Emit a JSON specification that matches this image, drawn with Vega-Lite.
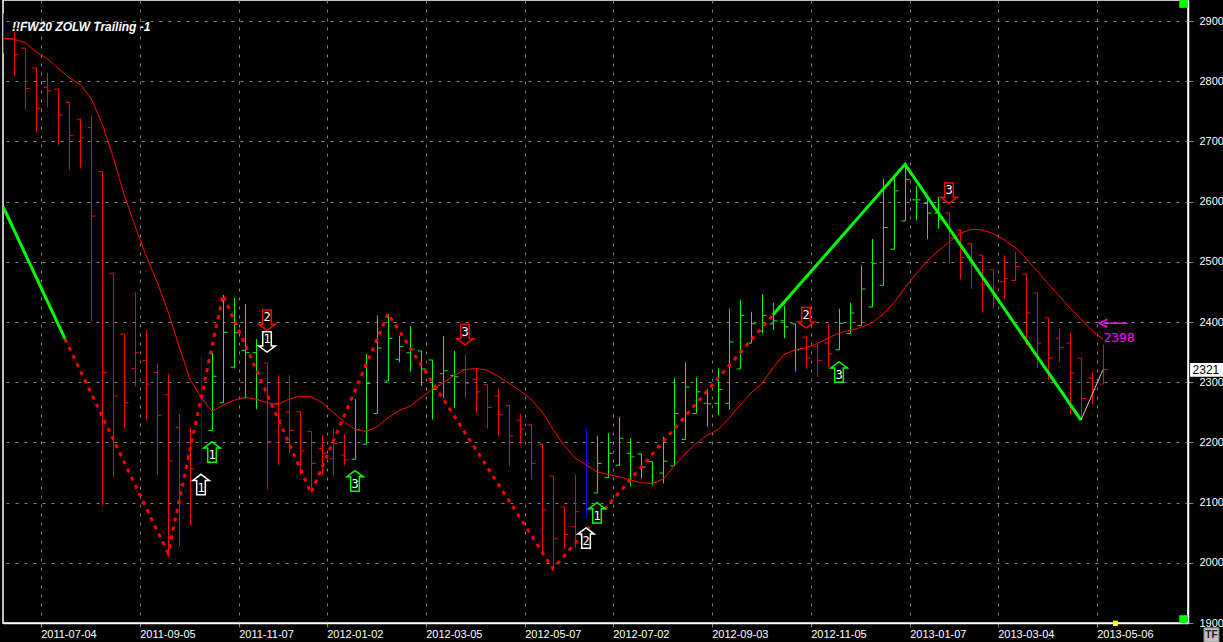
{
  "$schema": "https://vega.github.io/schema/vega-lite/v6.json",
  "width": 1185,
  "height": 623,
  "autosize": {"type": "none"},
  "padding": {"left": 3, "top": 0, "right": 35, "bottom": 19},
  "background": "#000000",
  "config": {
    "view": {"stroke": "#ffffff", "strokeWidth": 1.5}
  },
  "title": {
    "text": "!!FW20 ZOLW Trailing -1",
    "anchor": "start",
    "frame": "group",
    "offset": -43,
    "dx": 9,
    "baseline": "alphabetic",
    "font": "Liberation Sans",
    "fontSize": 12,
    "fontStyle": "italic",
    "fontWeight": "bold",
    "color": "#ffffff"
  },
  "datasets": {
    "bars": [
      {"d":"2011-06-10","o":2880,"h":2913,"l":2847,"c":2871,"t":"dn","ma":2872},
      {"d":"2011-06-17","o":2870,"h":2882,"l":2809,"c":2844,"t":"dn","ma":2870},
      {"d":"2011-06-24","o":2855,"h":2855,"l":2753,"c":2788,"t":"dn","ma":2864},
      {"d":"2011-07-01","o":2822,"h":2822,"l":2715,"c":2755,"t":"dn","ma":2849},
      {"d":"2011-07-08","o":2790,"h":2814,"l":2757,"c":2784,"t":"dn","ma":2838},
      {"d":"2011-07-15","o":2787,"h":2787,"l":2694,"c":2744,"t":"dn","ma":2822},
      {"d":"2011-07-22","o":2765,"h":2765,"l":2653,"c":2710,"t":"dn","ma":2806},
      {"d":"2011-07-29","o":2737,"h":2737,"l":2656,"c":2706,"t":"dn","ma":2795},
      {"d":"2011-08-05","o":2723,"h":2743,"l":2401,"c":2576,"t":"dn","ma":2772},
      {"d":"2011-08-12","o":2650,"h":2650,"l":2095,"c":2316,"t":"dn","ma":2730},
      {"d":"2011-08-19","o":2481,"h":2481,"l":2142,"c":2277,"t":"dn","ma":2675},
      {"d":"2011-08-26","o":2380,"h":2380,"l":2223,"c":2266,"t":"dn","ma":2612},
      {"d":"2011-09-02","o":2323,"h":2449,"l":2293,"c":2349,"t":"dn","ma":2560},
      {"d":"2011-09-09","o":2336,"h":2387,"l":2239,"c":2297,"t":"dn","ma":2510},
      {"d":"2011-09-16","o":2316,"h":2331,"l":2147,"c":2245,"t":"dn","ma":2467},
      {"d":"2011-09-23","o":2279,"h":2314,"l":2016,"c":2169,"t":"dn","ma":2418},
      {"d":"2011-09-30","o":2225,"h":2247,"l":2028,"c":2130,"t":"dn","ma":2360},
      {"d":"2011-10-07","o":2179,"h":2226,"l":2062,"c":2156,"t":"dn","ma":2305},
      {"d":"2011-10-14","o":2166,"h":2342,"l":2166,"c":2273,"t":"x","ma":2275},
      {"d":"2011-10-21","o":2220,"h":2349,"l":2220,"c":2310,"t":"up","ma":2252},
      {"d":"2011-10-28","o":2266,"h":2445,"l":2266,"c":2383,"t":"up","ma":2262},
      {"d":"2011-11-04","o":2325,"h":2440,"l":2323,"c":2382,"t":"up","ma":2270},
      {"d":"2011-11-11","o":2353,"h":2430,"l":2273,"c":2349,"t":"up","ma":2275},
      {"d":"2011-11-18","o":2349,"h":2372,"l":2255,"c":2315,"t":"up","ma":2272},
      {"d":"2011-11-25","o":2332,"h":2332,"l":2122,"c":2201,"t":"dn","ma":2266},
      {"d":"2011-12-02","o":2265,"h":2311,"l":2162,"c":2237,"t":"dn","ma":2263},
      {"d":"2011-12-09","o":2251,"h":2312,"l":2182,"c":2220,"t":"dn","ma":2272},
      {"d":"2011-12-16","o":2251,"h":2251,"l":2146,"c":2186,"t":"dn","ma":2277},
      {"d":"2011-12-23","o":2218,"h":2218,"l":2116,"c":2165,"t":"dn","ma":2276},
      {"d":"2011-12-30","o":2190,"h":2212,"l":2146,"c":2182,"t":"dn","ma":2266},
      {"d":"2012-01-06","o":2173,"h":2223,"l":2146,"c":2198,"t":"dn","ma":2250},
      {"d":"2012-01-13","o":2179,"h":2214,"l":2162,"c":2171,"t":"dn","ma":2234},
      {"d":"2012-01-20","o":2172,"h":2272,"l":2172,"c":2221,"t":"up","ma":2222},
      {"d":"2012-01-27","o":2197,"h":2347,"l":2197,"c":2298,"t":"up","ma":2218},
      {"d":"2012-02-03","o":2248,"h":2411,"l":2248,"c":2357,"t":"up","ma":2226},
      {"d":"2012-02-10","o":2302,"h":2414,"l":2302,"c":2373,"t":"up","ma":2241},
      {"d":"2012-02-17","o":2338,"h":2377,"l":2333,"c":2359,"t":"up","ma":2253},
      {"d":"2012-02-24","o":2349,"h":2393,"l":2318,"c":2355,"t":"up","ma":2260},
      {"d":"2012-03-02","o":2352,"h":2352,"l":2294,"c":2322,"t":"up","ma":2274},
      {"d":"2012-03-09","o":2337,"h":2337,"l":2238,"c":2288,"t":"up","ma":2288},
      {"d":"2012-03-16","o":2314,"h":2377,"l":2274,"c":2319,"t":"up","ma":2299},
      {"d":"2012-03-23","o":2311,"h":2352,"l":2257,"c":2309,"t":"up","ma":2311},
      {"d":"2012-03-30","o":2321,"h":2346,"l":2274,"c":2298,"t":"dn","ma":2321},
      {"d":"2012-04-06","o":2305,"h":2323,"l":2249,"c":2284,"t":"dn","ma":2323},
      {"d":"2012-04-13","o":2296,"h":2296,"l":2223,"c":2258,"t":"dn","ma":2320},
      {"d":"2012-04-20","o":2277,"h":2288,"l":2212,"c":2246,"t":"dn","ma":2310},
      {"d":"2012-04-27","o":2261,"h":2261,"l":2161,"c":2211,"t":"dn","ma":2298},
      {"d":"2012-05-04","o":2237,"h":2248,"l":2197,"c":2222,"t":"dn","ma":2286},
      {"d":"2012-05-11","o":2229,"h":2229,"l":2139,"c":2165,"t":"dn","ma":2272},
      {"d":"2012-05-18","o":2197,"h":2197,"l":2012,"c":2088,"t":"dn","ma":2251},
      {"d":"2012-05-25","o":2144,"h":2144,"l":1990,"c":2040,"t":"dn","ma":2222},
      {"d":"2012-06-01","o":2093,"h":2093,"l":2023,"c":2047,"t":"dn","ma":2195},
      {"d":"2012-06-08","o":2060,"h":2146,"l":2025,"c":2085,"t":"dn","ma":2174},
      {"d":"2012-06-15","o":2076,"h":2223,"l":2076,"c":2165,"t":"x","ma":2163},
      {"d":"2012-06-22","o":2116,"h":2211,"l":2116,"c":2165,"t":"up","ma":2151},
      {"d":"2012-06-29","o":2142,"h":2215,"l":2142,"c":2182,"t":"up","ma":2147},
      {"d":"2012-07-06","o":2162,"h":2242,"l":2162,"c":2207,"t":"up","ma":2143},
      {"d":"2012-07-13","o":2182,"h":2207,"l":2127,"c":2176,"t":"up","ma":2138},
      {"d":"2012-07-20","o":2181,"h":2181,"l":2140,"c":2159,"t":"up","ma":2133},
      {"d":"2012-07-27","o":2168,"h":2168,"l":2129,"c":2133,"t":"up","ma":2132},
      {"d":"2012-08-03","o":2149,"h":2209,"l":2132,"c":2169,"t":"up","ma":2139},
      {"d":"2012-08-10","o":2161,"h":2307,"l":2161,"c":2248,"t":"up","ma":2160},
      {"d":"2012-08-17","o":2205,"h":2333,"l":2205,"c":2292,"t":"up","ma":2181},
      {"d":"2012-08-24","o":2248,"h":2308,"l":2248,"c":2284,"t":"up","ma":2198},
      {"d":"2012-08-31","o":2265,"h":2288,"l":2226,"c":2264,"t":"up","ma":2212},
      {"d":"2012-09-07","o":2265,"h":2323,"l":2246,"c":2288,"t":"up","ma":2221},
      {"d":"2012-09-14","o":2265,"h":2422,"l":2255,"c":2367,"t":"up","ma":2240},
      {"d":"2012-09-21","o":2322,"h":2437,"l":2322,"c":2411,"t":"up","ma":2262},
      {"d":"2012-09-28","o":2365,"h":2417,"l":2365,"c":2397,"t":"up","ma":2282},
      {"d":"2012-10-05","o":2385,"h":2446,"l":2381,"c":2411,"t":"up","ma":2298},
      {"d":"2012-10-12","o":2397,"h":2432,"l":2387,"c":2402,"t":"up","ma":2324},
      {"d":"2012-10-19","o":2402,"h":2427,"l":2373,"c":2392,"t":"up","ma":2346},
      {"d":"2012-10-26","o":2397,"h":2397,"l":2318,"c":2354,"t":"up","ma":2354},
      {"d":"2012-11-02","o":2375,"h":2375,"l":2322,"c":2340,"t":"dn","ma":2357},
      {"d":"2012-11-09","o":2359,"h":2366,"l":2309,"c":2336,"t":"dn","ma":2364},
      {"d":"2012-11-16","o":2365,"h":2396,"l":2325,"c":2347,"t":"dn","ma":2373},
      {"d":"2012-11-23","o":2354,"h":2422,"l":2354,"c":2398,"t":"up","ma":2382},
      {"d":"2012-11-30","o":2381,"h":2432,"l":2381,"c":2415,"t":"up","ma":2386},
      {"d":"2012-12-07","o":2394,"h":2494,"l":2394,"c":2455,"t":"up","ma":2391},
      {"d":"2012-12-14","o":2425,"h":2538,"l":2425,"c":2497,"t":"up","ma":2399},
      {"d":"2012-12-21","o":2461,"h":2638,"l":2461,"c":2557,"t":"up","ma":2413},
      {"d":"2012-12-28","o":2521,"h":2643,"l":2521,"c":2618,"t":"up","ma":2432},
      {"d":"2013-01-04","o":2568,"h":2662,"l":2568,"c":2637,"t":"up","ma":2457},
      {"d":"2013-01-11","o":2603,"h":2626,"l":2569,"c":2603,"t":"up","ma":2480},
      {"d":"2013-01-18","o":2597,"h":2609,"l":2538,"c":2581,"t":"up","ma":2501},
      {"d":"2013-01-25","o":2581,"h":2608,"l":2555,"c":2571,"t":"up","ma":2518},
      {"d":"2013-02-01","o":2581,"h":2581,"l":2497,"c":2540,"t":"dn","ma":2533},
      {"d":"2013-02-08","o":2553,"h":2553,"l":2471,"c":2507,"t":"dn","ma":2547},
      {"d":"2013-02-15","o":2530,"h":2530,"l":2455,"c":2494,"t":"dn","ma":2554},
      {"d":"2013-02-22","o":2511,"h":2511,"l":2416,"c":2462,"t":"dn","ma":2553},
      {"d":"2013-03-01","o":2487,"h":2487,"l":2422,"c":2446,"t":"dn","ma":2547},
      {"d":"2013-03-08","o":2467,"h":2511,"l":2438,"c":2472,"t":"dn","ma":2537},
      {"d":"2013-03-15","o":2469,"h":2517,"l":2469,"c":2492,"t":"dn","ma":2524},
      {"d":"2013-03-22","o":2480,"h":2480,"l":2362,"c":2415,"t":"dn","ma":2506},
      {"d":"2013-03-29","o":2448,"h":2448,"l":2323,"c":2365,"t":"dn","ma":2485},
      {"d":"2013-04-05","o":2407,"h":2407,"l":2304,"c":2340,"t":"dn","ma":2464},
      {"d":"2013-04-12","o":2373,"h":2390,"l":2334,"c":2358,"t":"dn","ma":2444},
      {"d":"2013-04-19","o":2365,"h":2382,"l":2246,"c":2315,"t":"dn","ma":2423},
      {"d":"2013-04-26","o":2340,"h":2340,"l":2237,"c":2273,"t":"dn","ma":2405},
      {"d":"2013-05-03","o":2307,"h":2316,"l":2264,"c":2288,"t":"dn","ma":2386},
      {"d":"2013-05-10","o":2297,"h":2362,"l":2297,"c":2321,"t":"dn","ma":2371}
    ],
    "zig": [
      {"d":"2011-06-10","p":2592,"seg":"g1","s":"g"},
      {"d":"2011-07-19T11:00:00Z","p":2372,"seg":"g1","s":"g"},
      {"d":"2011-07-19T11:00:00Z","p":2372,"seg":"r1","s":"r"},
      {"d":"2011-09-23","p":2016,"seg":"r1","s":"r"},
      {"d":"2011-10-28","p":2445,"seg":"r1","s":"r"},
      {"d":"2011-12-23","p":2116,"seg":"r1","s":"r"},
      {"d":"2012-02-10","p":2414,"seg":"r1","s":"r"},
      {"d":"2012-05-25","p":1990,"seg":"r1","s":"r"},
      {"d":"2012-10-12","p":2412,"seg":"r1","s":"r"},
      {"d":"2012-10-12","p":2412,"seg":"g2","s":"g"},
      {"d":"2013-01-04","p":2662,"seg":"g2","s":"g"},
      {"d":"2013-04-26","p":2237,"seg":"g2","s":"g"},
      {"d":"2013-04-26","p":2237,"seg":"w1","s":"w"},
      {"d":"2013-05-10","p":2321,"seg":"w1","s":"w"}
    ],
    "arrows": [
      {"d":"2011-10-14","p":2130,"dir":"up","k":"w","n":"1"},
      {"d":"2011-10-21","p":2184,"dir":"up","k":"g","n":"1"},
      {"d":"2011-11-25","p":2403,"dir":"dn","k":"r","n":"2"},
      {"d":"2011-11-25","p":2367,"dir":"dn","k":"w","n":"1"},
      {"d":"2012-01-20","p":2136,"dir":"up","k":"g","n":"3"},
      {"d":"2012-03-30","p":2379,"dir":"dn","k":"r","n":"3"},
      {"d":"2012-06-15","p":2041,"dir":"up","k":"w","n":"2"},
      {"d":"2012-06-22","p":2083,"dir":"up","k":"g","n":"1"},
      {"d":"2012-11-02","p":2407,"dir":"dn","k":"r","n":"2"},
      {"d":"2012-11-23","p":2317,"dir":"up","k":"g","n":"3"},
      {"d":"2013-02-01","p":2614,"dir":"dn","k":"r","n":"3"}
    ],
    "mag": [
      {"d":"2013-05-10T06:00:00Z","d2":"2013-05-25T12:00:00Z","p":2398,"lp":2373,"txt":"2398"}
    ],
    "last": [
      {"d":"2013-07-04T10:00:00Z","d2":"2013-07-26T00:00:00Z","dt":"2013-07-06T00:00:00Z","p1":2309,"p2":2332,"p":2321,"txt":"2321"}
    ],
    "gadgets": [
      {"d":"2013-06-27T12:00:00Z","d2":"2013-07-03T02:00:00Z","p1":2922,"p2":2935,"g":"green"},
      {"d":"2013-06-27T12:00:00Z","d2":"2013-07-03T02:00:00Z","p1":1900,"p2":1913,"g":"green"},
      {"d":"2013-05-16T09:00:00Z","d2":"2013-05-19T12:00:00Z","p1":1895,"p2":1904,"g":"yellow"}
    ],
    "tf": [
      {"d":"2013-07-13T06:00:00Z","d2":"2013-07-22T19:00:00Z","dt":"2013-07-18T00:00:00Z","p1":1868,"p2":1892,"p":1880,"txt":"TF"}
    ]
  },
  "layer": [
    {
      "data": {"name": "bars"},
      "mark": {"type": "rule", "strokeWidth": 1, "xOffset": 0.5, "x2Offset": 0.5, "clip": true},
      "encoding": {
        "x": {
          "field": "d", "type": "temporal", "title": null,
          "scale": {"type": "utc", "domain": [{"year": 2011, "month": 6, "date": 10, "utc": true}, {"year": 2013, "month": 7, "date": 3, "hours": 2, "utc": true}]},
          "axis": {
            "values": [
              {"year": 2011, "month": 7, "date": 4, "utc": true},
              {"year": 2011, "month": 9, "date": 5, "utc": true},
              {"year": 2011, "month": 11, "date": 7, "utc": true},
              {"year": 2012, "month": 1, "date": 2, "utc": true},
              {"year": 2012, "month": 3, "date": 5, "utc": true},
              {"year": 2012, "month": 5, "date": 7, "utc": true},
              {"year": 2012, "month": 7, "date": 2, "utc": true},
              {"year": 2012, "month": 9, "date": 3, "utc": true},
              {"year": 2012, "month": 11, "date": 5, "utc": true},
              {"year": 2013, "month": 1, "date": 7, "utc": true},
              {"year": 2013, "month": 3, "date": 4, "utc": true},
              {"year": 2013, "month": 5, "date": 6, "utc": true}
            ],
            "title": null,
            "format": "%Y-%m-%d",
            "labelFont": "Liberation Sans",
            "labelFontSize": 11,
            "labelColor": "#ffffff",
            "labelAlign": "left",
            "labelBaseline": "top",
            "labelPadding": 1,
            "labelOverlap": false,
            "labelFlush": false,
            "tickColor": "#808080",
            "tickSize": 4,
            "domainColor": "#ffffff",
            "domainWidth": 1.5,
            "grid": true,
            "gridColor": "#808080",
            "gridDash": [3, 6],
            "gridWidth": 1
          }
        },
        "y": {
          "field": "l", "type": "quantitative", "title": null,
          "scale": {"domain": [1900, 2935], "nice": false, "zero": false},
          "axis": {
            "orient": "right",
            "title": null,
            "values": [1900, 2000, 2100, 2200, 2300, 2400, 2500, 2600, 2700, 2800, 2900],
            "format": "d",
            "labelFont": "Liberation Sans",
            "labelFontSize": 11,
            "labelColor": "#ffffff",
            "labelPadding": 6,
            "tickColor": "#808080",
            "tickSize": 5,
            "domainColor": "#ffffff",
            "domainWidth": 1.5,
            "grid": true,
            "gridColor": "#808080",
            "gridDash": [3, 6],
            "gridWidth": 1
          }
        },
        "y2": {"field": "h"},
        "color": {"field": "t", "type": "nominal", "scale": {"domain": ["dn", "up", "x"], "range": ["#ff0000", "#00ff00", "#0000ff"]}, "legend": null}
      }
    },
    {
      "data": {"name": "bars"},
      "mark": {"type": "rule", "strokeWidth": 1, "xOffset": -3.5, "x2Offset": 0.5, "clip": true},
      "encoding": {
        "x": {"field": "d", "type": "temporal", "title": null},
        "x2": {"field": "d"},
        "y": {"field": "o", "type": "quantitative", "title": null},
        "color": {"field": "t", "type": "nominal", "legend": null}
      }
    },
    {
      "data": {"name": "bars"},
      "mark": {"type": "rule", "strokeWidth": 1, "xOffset": 0.5, "x2Offset": 4.5, "clip": true},
      "encoding": {
        "x": {"field": "d", "type": "temporal", "title": null},
        "x2": {"field": "d"},
        "y": {"field": "c", "type": "quantitative", "title": null},
        "color": {"field": "t", "type": "nominal", "legend": null}
      }
    },
    {
      "data": {"name": "bars"},
      "mark": {"type": "line", "color": "#ff0000", "strokeWidth": 1, "clip": true},
      "encoding": {
        "x": {"field": "d", "type": "temporal", "title": null},
        "y": {"field": "ma", "type": "quantitative", "title": null}
      }
    },
    {
      "data": {"name": "zig"},
      "transform": [{"filter": "datum.s == 'r'"}],
      "mark": {"type": "line", "color": "#ff0000", "strokeWidth": 3, "strokeDash": [4, 5], "clip": true},
      "encoding": {
        "x": {"field": "d", "type": "temporal", "title": null},
        "y": {"field": "p", "type": "quantitative", "title": null},
        "detail": {"field": "seg"}
      }
    },
    {
      "data": {"name": "zig"},
      "transform": [{"filter": "datum.s == 'g'"}],
      "mark": {"type": "line", "color": "#00ff00", "strokeWidth": 3, "clip": true},
      "encoding": {
        "x": {"field": "d", "type": "temporal", "title": null},
        "y": {"field": "p", "type": "quantitative", "title": null},
        "detail": {"field": "seg"}
      }
    },
    {
      "data": {"name": "zig"},
      "transform": [{"filter": "datum.s == 'w'"}],
      "mark": {"type": "line", "color": "#c8c8c8", "strokeWidth": 1, "clip": true},
      "encoding": {
        "x": {"field": "d", "type": "temporal", "title": null},
        "y": {"field": "p", "type": "quantitative", "title": null},
        "detail": {"field": "seg"}
      }
    },
    {
      "data": {"name": "arrows"},
      "mark": {"type": "point", "filled": true, "fill": "#000000", "size": 420, "strokeWidth": 1.5, "opacity": 1},
      "encoding": {
        "x": {"field": "d", "type": "temporal", "title": null},
        "y": {"field": "p", "type": "quantitative", "title": null},
        "shape": {"field": "dir", "type": "nominal", "scale": {"domain": ["up", "dn"], "range": ["M0,-1L0.8,-0.4L0.42,-0.4L0.42,1L-0.42,1L-0.42,-0.4L-0.8,-0.4Z", "M0,1L0.8,0.4L0.42,0.4L0.42,-1L-0.42,-1L-0.42,0.4L-0.8,0.4Z"]}, "legend": null},
        "stroke": {"field": "k", "type": "nominal", "scale": {"domain": ["w", "g", "r"], "range": ["#ffffff", "#00ff00", "#ff0000"]}, "legend": null}
      }
    },
    {
      "data": {"name": "arrows"},
      "transform": [{"filter": "datum.dir == 'up'"}],
      "mark": {"type": "text", "color": "#ffffff", "font": "DejaVu Sans Mono", "fontSize": 12, "align": "center", "baseline": "middle", "dy": 3},
      "encoding": {
        "x": {"field": "d", "type": "temporal", "title": null},
        "y": {"field": "p", "type": "quantitative", "title": null},
        "text": {"field": "n"}
      }
    },
    {
      "data": {"name": "arrows"},
      "transform": [{"filter": "datum.dir == 'dn'"}],
      "mark": {"type": "text", "color": "#ffffff", "font": "DejaVu Sans Mono", "fontSize": 12, "align": "center", "baseline": "middle", "dy": -3},
      "encoding": {
        "x": {"field": "d", "type": "temporal", "title": null},
        "y": {"field": "p", "type": "quantitative", "title": null},
        "text": {"field": "n"}
      }
    },
    {
      "data": {"name": "mag"},
      "mark": {"type": "rule", "color": "#ff00ff", "strokeWidth": 1.5},
      "encoding": {
        "x": {"field": "d", "type": "temporal", "title": null},
        "x2": {"field": "d2"},
        "y": {"field": "p", "type": "quantitative", "title": null}
      }
    },
    {
      "data": {"name": "mag"},
      "mark": {"type": "point", "shape": "M1,-1L-1,0L1,1", "filled": false, "size": 64, "color": "#ff00ff", "strokeWidth": 1.5, "opacity": 1},
      "encoding": {
        "x": {"field": "d", "type": "temporal", "title": null},
        "y": {"field": "p", "type": "quantitative", "title": null}
      }
    },
    {
      "data": {"name": "mag"},
      "mark": {"type": "text", "color": "#ff00ff", "font": "DejaVu Sans Mono", "fontSize": 13, "align": "left", "baseline": "middle"},
      "encoding": {
        "x": {"field": "d", "type": "temporal", "title": null},
        "y": {"field": "lp", "type": "quantitative", "title": null},
        "text": {"field": "txt"}
      }
    },
    {
      "data": {"name": "last"},
      "mark": {"type": "rect", "color": "#ffffff", "clip": false},
      "encoding": {
        "x": {"field": "d", "type": "temporal", "title": null},
        "x2": {"field": "d2"},
        "y": {"field": "p1", "type": "quantitative", "title": null},
        "y2": {"field": "p2"}
      }
    },
    {
      "data": {"name": "last"},
      "mark": {"type": "text", "color": "#000000", "font": "Liberation Sans", "fontSize": 12, "align": "left", "baseline": "middle", "clip": false},
      "encoding": {
        "x": {"field": "dt", "type": "temporal", "title": null},
        "y": {"field": "p", "type": "quantitative", "title": null},
        "text": {"field": "txt"}
      }
    },
    {
      "data": {"name": "gadgets"},
      "mark": {"type": "rect", "clip": false},
      "encoding": {
        "x": {"field": "d", "type": "temporal", "title": null},
        "x2": {"field": "d2"},
        "y": {"field": "p1", "type": "quantitative", "title": null},
        "y2": {"field": "p2"},
        "fill": {"field": "g", "type": "nominal", "scale": {"domain": ["green", "yellow"], "range": ["#00ff00", "#ffff00"]}, "legend": null}
      }
    },
    {
      "data": {"name": "tf"},
      "mark": {"type": "rect", "fill": "#c0c0c0", "stroke": "#808080", "strokeWidth": 1, "clip": false},
      "encoding": {
        "x": {"field": "d", "type": "temporal", "title": null},
        "x2": {"field": "d2"},
        "y": {"field": "p1", "type": "quantitative", "title": null},
        "y2": {"field": "p2"}
      }
    },
    {
      "data": {"name": "tf"},
      "mark": {"type": "text", "color": "#202020", "font": "Liberation Sans", "fontSize": 10, "fontWeight": "bold", "align": "center", "baseline": "middle", "clip": false},
      "encoding": {
        "x": {"field": "dt", "type": "temporal", "title": null},
        "y": {"field": "p", "type": "quantitative", "title": null},
        "text": {"field": "txt"}
      }
    }
  ]
}
